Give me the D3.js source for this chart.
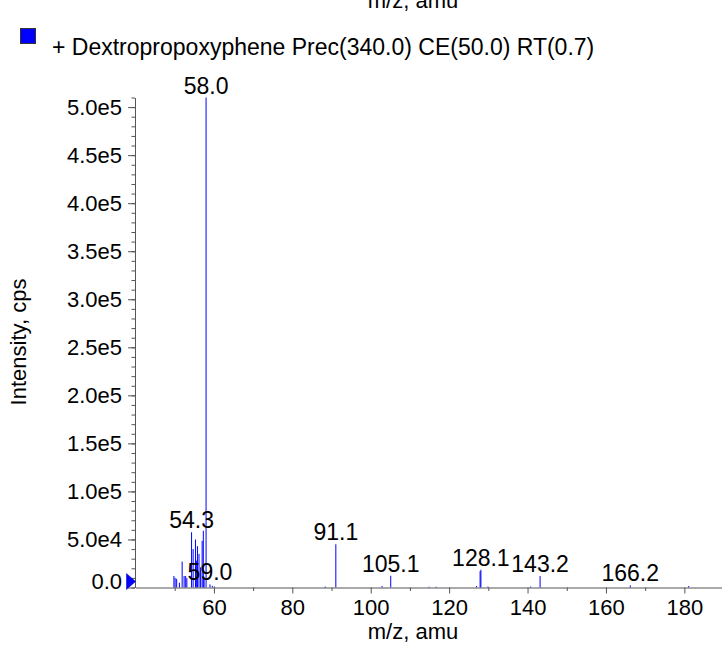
<!DOCTYPE html>
<html>
<head>
<meta charset="utf-8">
<script src="https://cdn.jsdelivr.net/npm/d3@7"></script>
<style>
  body { margin: 0; background: #fff; }
  text { font-family: "Liberation Sans", Arial, Helvetica, sans-serif; fill: #000; }
</style>
</head>
<body>
<script>
// spectrum peaks (m/z, intensity in cps)
var peakMz = [49.8, 50.1, 50.5, 51.2, 51.9, 52.4, 52.8, 53.1, 54.3, 54.7, 55.3, 55.6, 55.8, 56.2, 56.6, 57.0, 57.3, 57.5,
              58.0, 59.0, 59.6, 60.1, 88.4, 91.1, 102.9, 105.1, 114.9, 116.7, 127.0, 127.9, 128.1, 129.9, 140.8, 143.2, 166.2, 181.1];
var peakIntensity = [12000, 10000, 9000, 5000, 27000, 12000, 12000, 9800, 57500, 40000, 50000, 28000, 43000, 35000, 21000, 48500, 59000, 10000,
                     510000, 3200, 1700, 1000, 1000, 45000, 1500, 12200, 800, 800, 1500, 17000, 18500, 1000, 1000, 11900, 2200, 1500];
var labelMz = [58.0, 54.3, 59.0, 91.1, 105.1, 128.1, 143.2, 166.2];

var xMajorTicks = [60, 80, 100, 120, 140, 160, 180];
var xTickLabels = ["60", "80", "100", "120", "140", "160", "180"];
var xMinorTicks = [50, 70, 90, 110, 130, 150, 170];
var yMajorTicks = [0, 50000, 100000, 150000, 200000, 250000, 300000, 350000, 400000, 450000, 500000];
var yTickLabels = ["0.0", "5.0e4", "1.0e5", "1.5e5", "2.0e5", "2.5e5", "3.0e5", "3.5e5", "4.0e5", "4.5e5", "5.0e5"];
var yMinorTicks = d3.range(0, 510001, 10000);

var legendText = "+ Dextropropoxyphene Prec(340.0) CE(50.0) RT(0.7)";

var width = 722, height = 645;
var plot = {left: 135.5, right: 722, top: 97.5, bottom: 587.5};

var x_scale = d3.scaleLinear().domain([40, 189.6]).range([plot.left, plot.right]),
    y_scale = d3.scaleLinear().domain([0, 510000]).range([plot.bottom, plot.top]);

var svg = d3.select("body").append("svg")
    .attr("width", width)
    .attr("height", height);

// cut-off axis title at the very top
svg.append("text")
    .attr("x", 413).attr("y", 8)
    .attr("text-anchor", "middle")
    .style("font-size", "22px")
    .text("m/z, amu");

// legend
svg.append("rect")
    .attr("x", 20.5).attr("y", 28.5)
    .attr("width", 15).attr("height", 15)
    .style("fill", "#0000ff")
    .style("stroke", "#333")
    .style("stroke-width", 1);
svg.append("text")
    .attr("x", 52).attr("y", 55)
    .style("font-size", "23px")
    .text(legendText);

// peaks
svg.selectAll(".peak")
    .data(peakMz)
  .enter().append("line")
    .attr("class", "peak")
    .attr("x1", function(d) { return x_scale(d); })
    .attr("x2", function(d) { return x_scale(d); })
    .attr("y1", y_scale(0))
    .attr("y2", function(d, i) { return y_scale(peakIntensity[i]); })
    .style("stroke", "#0000ff")
    .style("stroke-width", 1);

// peak labels
svg.selectAll(".plabel")
    .data(labelMz)
  .enter().append("text")
    .attr("class", "plabel")
    .attr("x", function(d) { return x_scale(d); })
    .attr("y", function(d) { return y_scale(peakIntensity[peakMz.indexOf(d)]) - 4; })
    .attr("text-anchor", "middle")
    .style("font-size", "23px")
    .text(function(d) { return d.toFixed(1); });

// x-axis
var x_axis = d3.axisBottom(x_scale)
    .tickValues(xMajorTicks)
    .tickFormat(function(d, i) { return xTickLabels[i]; })
    .tickSize(6)
    .tickPadding(6)
    .tickSizeOuter(0);
var gx = svg.append("g")
    .attr("class", "x axis")
    .attr("transform", "translate(0," + plot.bottom + ")")
    .call(x_axis);
svg.append("g")
    .attr("transform", "translate(0," + plot.bottom + ")")
    .call(d3.axisBottom(x_scale).tickValues(xMinorTicks).tickSize(3.5).tickFormat("").tickSizeOuter(0))
    .select(".domain").remove();
svg.append("text")
    .attr("x", 413).attr("y", 639)
    .attr("text-anchor", "middle")
    .style("font-size", "22px")
    .text("m/z, amu");

// y-axis
var y_axis = d3.axisLeft(y_scale)
    .tickValues(yMajorTicks)
    .tickFormat(function(d, i) { return yTickLabels[i]; })
    .tickSize(7)
    .tickPadding(6)
    .tickSizeOuter(0);
var gy = svg.append("g")
    .attr("class", "y axis")
    .attr("transform", "translate(" + (plot.left - 0.5) + ",0)")
    .call(y_axis);
svg.append("g")
    .attr("transform", "translate(" + (plot.left - 0.5) + ",0)")
    .call(d3.axisLeft(y_scale).tickValues(yMinorTicks).tickSize(3.5).tickFormat("").tickSizeOuter(0))
    .select(".domain").remove();
gy.selectAll(".tick").filter(function(d) { return d === 0; })
    .select("text").attr("dy", "0.05em");
svg.append("text")
    .attr("transform", "translate(26,342) rotate(-90)")
    .attr("text-anchor", "middle")
    .style("font-size", "22px")
    .text("Intensity, cps");

svg.selectAll(".axis text").style("font-size", "22px").style("font-family", "'Liberation Sans', Arial, sans-serif");
svg.selectAll(".domain, .tick line").style("stroke", "#555");

// baseline marker
var y0 = y_scale(0);
svg.append("path")
    .attr("d", "M" + (plot.left - 9) + "," + (y0 - 14) + "L" + plot.left + "," + (y0 - 6) + "L" + (plot.left - 9) + "," + (y0 + 2) + "Z")
    .style("fill", "#0000ff")
    .style("stroke", "#0000aa")
    .style("stroke-width", 0.5);
</script>
</body>
</html>
